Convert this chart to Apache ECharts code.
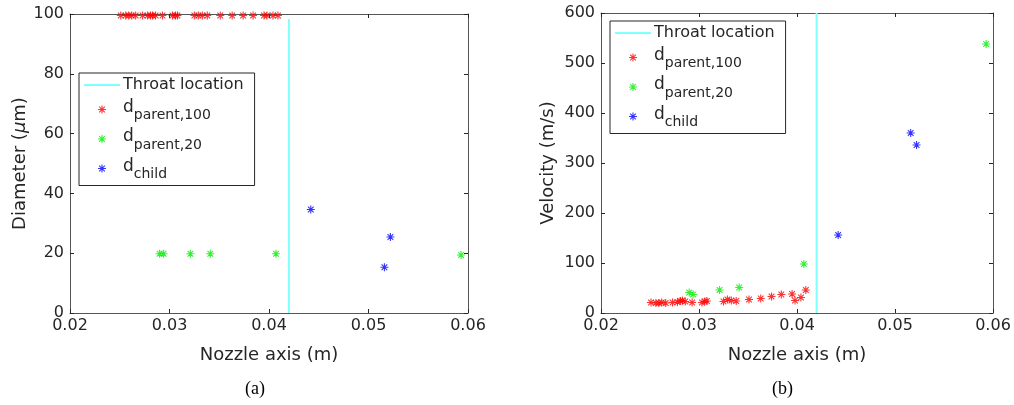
<!DOCTYPE html>
<html>
<head>
<meta charset="utf-8">
<script src="https://cdn.jsdelivr.net/npm/echarts@6/dist/echarts.min.js"></script>
<style>
html,body{margin:0;padding:0;background:#fff;}
#c{width:1014px;height:405px;}
</style>
</head>
<body>
<div id="c"></div>
<script>
// ---- data ----
var throatX = 0.042;
var xTicks = [0.02, 0.03, 0.04, 0.05, 0.06];
var diamTicks = [0, 20, 40, 60, 80, 100];
var velTicks = [0, 100, 200, 300, 400, 500, 600];

var parent100X = [0.0251, 0.0256, 0.0259, 0.0262, 0.0266, 0.0273, 0.0278, 0.0281, 0.0283, 0.0286, 0.0293,
                  0.0303, 0.0306, 0.0308, 0.0325, 0.0329, 0.0333, 0.0338, 0.0351, 0.0363, 0.0374,
                  0.0384, 0.0395, 0.0398, 0.0404, 0.0409];
var parent100D = [99.5, 99.5, 99.5, 99.5, 99.5, 99.5, 99.5, 99.5, 99.5, 99.5, 99.5,
                  99.5, 99.5, 99.5, 99.5, 99.5, 99.5, 99.5, 99.5, 99.5, 99.5,
                  99.5, 99.5, 99.5, 99.5, 99.5];
var parent100V = [21, 20, 20, 21, 20, 21, 22, 24, 25, 23, 21,
                  21, 23, 24, 23, 27, 25, 24, 27, 29, 33,
                  37, 38, 25, 31, 46];

var parent20X = [0.0290, 0.0294, 0.0321, 0.0341, 0.0407, 0.0593];
var parent20D = [19.8, 19.8, 19.8, 19.8, 19.8, 19.4];
var parent20V = [41, 37, 46, 51, 98, 538];

var childX = [0.0442, 0.0516, 0.0522];
var childD = [34.6, 15.3, 25.4];
var childV = [156, 360, 336];

// ---- chart ----
var AX = '#262626';
var FONT = 'DejaVu Sans';
var STAR = 'path://M0,-5L0,5M-5,0L5,0M-3.54,-3.54L3.54,3.54M-3.54,3.54L3.54,-3.54';
var LINEICON = 'path://M0,0H36V2H0Z';
var COLORS = { p100: '#ff0000', p20: '#00ee00', child: '#0000ff', throat: '#80ffff' };

function zip(a, b) { return a.map(function (v, i) { return [v, b[i]]; }); }

function starSeries(name, color, xi, yi, xs, ys) {
  return {
    name: name, type: 'scatter', xAxisIndex: xi, yAxisIndex: yi,
    symbol: STAR, symbolSize: 8,
    itemStyle: { color: 'none', borderColor: color, borderWidth: 1.1 },
    emphasis: { disabled: true },
    data: zip(xs, ys), z: 5
  };
}

function mainX(gi) {
  return {
    type: 'value', gridIndex: gi, min: 0.02, max: 0.06, interval: 0.01,
    name: 'Nozzle axis (m)', nameLocation: 'middle', nameGap: 33,
    nameTextStyle: { color: AX, fontFamily: FONT, fontSize: 18 },
    axisLine: { show: true, onZero: false, lineStyle: { color: '#555', width: 1 } },
    axisTick: { show: true, inside: true, length: 4, lineStyle: { color: AX } },
    axisLabel: { color: AX, fontFamily: FONT, fontSize: 16, margin: 5,
      formatter: function (v) { return (Math.round(v * 100) / 100).toString(); } },
    splitLine: { show: false }
  };
}
function topX(gi) {
  return {
    type: 'value', gridIndex: gi, position: 'top', min: 0.02, max: 0.06, interval: 0.01,
    axisLine: { show: true, onZero: false, lineStyle: { color: '#555', width: 1 } },
    axisTick: { show: true, inside: true, length: 4, lineStyle: { color: AX } },
    axisLabel: { show: false }, splitLine: { show: false }
  };
}
function mainY(gi, max, interval, name, rich, gap) {
  return {
    type: 'value', gridIndex: gi, min: 0, max: max, interval: interval,
    name: name, nameLocation: 'middle', nameGap: gap,
    nameTextStyle: { color: AX, fontFamily: FONT, fontSize: 18, rich: rich },
    axisLine: { show: true, onZero: false, lineStyle: { color: '#555', width: 1 } },
    axisTick: { show: true, inside: true, length: 4, lineStyle: { color: AX } },
    axisLabel: { color: AX, fontFamily: FONT, fontSize: 16, margin: 6 },
    splitLine: { show: false }
  };
}
function rightY(gi, max, interval) {
  return {
    type: 'value', gridIndex: gi, position: 'right', min: 0, max: max, interval: interval,
    axisLine: { show: true, onZero: false, lineStyle: { color: '#555', width: 1 } },
    axisTick: { show: true, inside: true, length: 4, lineStyle: { color: AX } },
    axisLabel: { show: false }, splitLine: { show: false }
  };
}

var legendNames = {
  'Throat location': 'Throat location',
  'p100': '{d|d}{s|parent,100}',
  'p20': '{d|d}{s|parent,20}',
  'child': '{d|d}{s|child}'
};
function legend(left, top) {
  return {
    orient: 'vertical', left: left, top: top,
    data: [
      { name: 'Throat location', icon: LINEICON, itemStyle: { color: COLORS.throat, borderWidth: 0 } },
      { name: 'p100', icon: STAR, itemStyle: { color: 'none', borderColor: COLORS.p100, borderWidth: 1.1 } },
      { name: 'p20', icon: STAR, itemStyle: { color: 'none', borderColor: COLORS.p20, borderWidth: 1.1 } },
      { name: 'child', icon: STAR, itemStyle: { color: 'none', borderColor: COLORS.child, borderWidth: 1.1 } }
    ],
    itemWidth: 36, itemHeight: 8, itemGap: 6,
    padding: [4, 11, 4, 5],
    borderColor: AX, borderWidth: 1, backgroundColor: '#fff',
    selectedMode: false,
    formatter: function (n) { return legendNames[n]; },
    textStyle: {
      color: AX, fontFamily: FONT, fontSize: 16, padding: [0, 0, 0, -2],
      rich: {
        d: { fontFamily: FONT, fontSize: 17, color: AX, height: 24, verticalAlign: 'top', padding: [4, 0, 4, 0] },
        s: { fontFamily: FONT, fontSize: 14, color: AX, height: 24, verticalAlign: 'bottom', padding: [12, 0, 0, 0] }
      }
    }
  };
}

var chart = echarts.init(document.getElementById('c'), null, { renderer: 'canvas' });

var option = {
  animation: false,
  backgroundColor: '#fff',
  grid: [
    { left: 70, top: 14, width: 398, height: 299 },
    { left: 601, top: 13, width: 392, height: 300 }
  ],
  xAxis: [mainX(0), topX(0), mainX(1), topX(1)],
  yAxis: [
    mainY(0, 100, 20, '{n|Diameter (}{i|μ}{n|m)}', {
      n: { fontFamily: FONT, fontSize: 18, color: AX },
      i: { fontFamily: FONT, fontSize: 18, color: AX, fontStyle: 'italic' }
    }, 41),
    rightY(0, 100, 20),
    mainY(1, 600, 100, 'Velocity (m/s)', {}, 44),
    rightY(1, 600, 100)
  ],
  legend: [
    legend(79, 73),
    legend(610, 21)
  ],
  series: [
    { name: 'Throat location', type: 'line', xAxisIndex: 0, yAxisIndex: 0, symbol: 'none',
      lineStyle: { color: COLORS.throat, width: 2 }, itemStyle: { color: COLORS.throat },
      data: [[throatX, 0], [throatX, 98.3]], z: 3 },
    starSeries('p100', COLORS.p100, 0, 0, parent100X, parent100D),
    starSeries('p20', COLORS.p20, 0, 0, parent20X, parent20D),
    starSeries('child', COLORS.child, 0, 0, childX, childD),
    { name: 'Throat location', type: 'line', xAxisIndex: 2, yAxisIndex: 2, symbol: 'none',
      lineStyle: { color: COLORS.throat, width: 2 }, itemStyle: { color: COLORS.throat },
      data: [[throatX, 0], [throatX, 600]], z: 3 },
    starSeries('p100', COLORS.p100, 2, 2, parent100X, parent100V),
    starSeries('p20', COLORS.p20, 2, 2, parent20X, parent20V),
    starSeries('child', COLORS.child, 2, 2, childX, childV)
  ],
  graphic: [
    { type: 'text', left: 245, top: 380, style: { text: '(a)', font: '18px "Liberation Serif"', fill: '#000' } },
    { type: 'text', left: 772, top: 380, style: { text: '(b)', font: '18px "Liberation Serif"', fill: '#000' } }
  ]
};
chart.setOption(option);
</script>
</body>
</html>
